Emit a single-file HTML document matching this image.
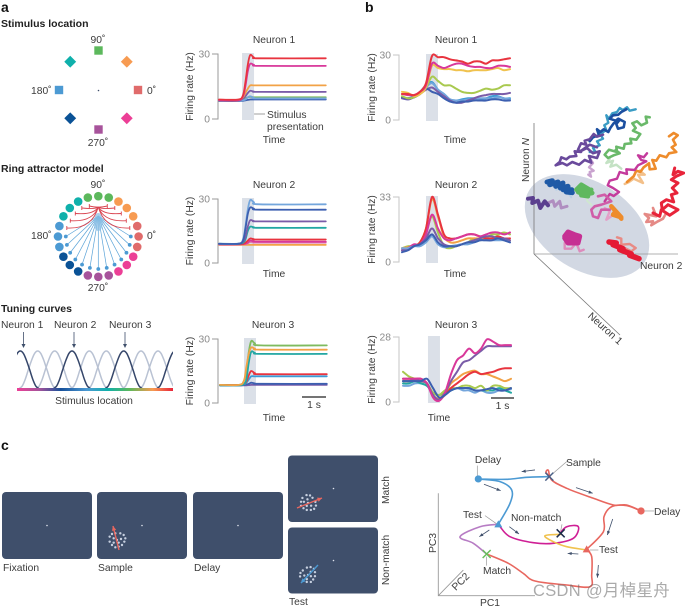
<!DOCTYPE html>
<html lang="en">
<head>
<meta charset="utf-8">
<title>Neuron firing figure</title>
<style>
html,body{margin:0;padding:0;background:#fff;}
svg{display:block;}
text{font-family:"Liberation Sans","Noto Sans CJK SC",sans-serif;font-size:10.3px;fill:#3b3b3b;}
.b{font-weight:bold;fill:#222;font-size:10.5px;}
.p{font-weight:bold;fill:#111;font-size:14px;}
.m{text-anchor:middle;}
.t{fill:#8a8a8a;}
</style>
</head>
<body>
<svg id="fig" xmlns="http://www.w3.org/2000/svg" width="685" height="607" viewBox="0 0 685 607">
<rect width="685" height="607" fill="#fff"/>
<text class="p" x="1" y="12">a</text>
<text class="p" x="365" y="12">b</text>
<text class="p" x="1" y="450">c</text>

<text class="b" x="1" y="27">Stimulus location</text>
<text class="m" x="98" y="43">90˚</text>
<text x="31" y="94">180˚</text>
<text x="147" y="94">0˚</text>
<text class="m" x="98" y="146">270˚</text>

<text class="b" x="1" y="172">Ring attractor model</text>
<text class="m" x="98" y="188">90˚</text>
<text x="31" y="239">180˚</text>
<text x="147" y="239">0˚</text>
<text class="m" x="98" y="291">270˚</text>

<text class="b" x="1" y="312">Tuning curves</text>
<text x="1" y="328">Neuron 1</text>
<text x="54" y="328">Neuron 2</text>
<text x="109" y="328">Neuron 3</text>
<text class="m" x="94" y="404">Stimulus location</text>
<defs>
<linearGradient id="bar" x1="0" x2="1" y1="0" y2="0">
<stop offset="0" stop-color="#ec3f96"/><stop offset=".14" stop-color="#a7539b"/><stop offset=".28" stop-color="#17509a"/><stop offset=".45" stop-color="#4c9ad3"/><stop offset=".58" stop-color="#0fb0ab"/><stop offset=".72" stop-color="#5cb85c"/><stop offset=".87" stop-color="#f79b52"/><stop offset="1" stop-color="#e8243a"/>
</linearGradient>
<clipPath id="tc"><rect x="17" y="340" width="156" height="50"/></clipPath>
</defs>
<g id="tuning" clip-path="url(#tc)"></g>
<rect x="17" y="388" width="156" height="3" fill="url(#bar)"/>
<g stroke="#3f4f6b" fill="#3f4f6b" stroke-width="0.8">
<path d="M23.500 332V346" fill="none"/><path d="M23.500 348l-2 -4h4z" stroke="none"/>
<path d="M74 332V346" fill="none"/><path d="M74 348l-2 -4h4z" stroke="none"/>
<path d="M125 332V346" fill="none"/><path d="M125 348l-2 -4h4z" stroke="none"/>
</g>

<text x="267" y="118">Stimulus</text>
<text x="267" y="130">presentation</text>
<line x1="254" y1="114" x2="265" y2="114" stroke="#888" stroke-width=".8"/>

<g id="screens">
<rect x="2" y="492" width="90" height="67" rx="4" fill="#3f4f6b"/>
<rect x="97" y="492" width="90" height="67" rx="4" fill="#3f4f6b"/>
<rect x="193" y="492" width="90" height="67" rx="4" fill="#3f4f6b"/>
<rect x="288" y="455.500" width="90" height="66.500" rx="4" fill="#3f4f6b"/>
<rect x="288" y="527.500" width="90" height="66" rx="4" fill="#3f4f6b"/>
<circle cx="47" cy="525.500" r=".8" fill="#dfe4ee"/>
<circle cx="142" cy="525.500" r=".8" fill="#dfe4ee"/>
<circle cx="238" cy="525.500" r=".8" fill="#dfe4ee"/>
<circle cx="333.500" cy="488.500" r=".8" fill="#dfe4ee"/>
<circle cx="333.500" cy="560.500" r=".8" fill="#dfe4ee"/>
</g>
<text x="3" y="571">Fixation</text>
<text x="98" y="571">Sample</text>
<text x="194" y="571">Delay</text>
<text x="289" y="605">Test</text>
<text class="m" transform="translate(389,490) rotate(-90)">Match</text>
<text class="m" transform="translate(389,560) rotate(-90)">Non-match</text>

<ellipse cx="587" cy="226" rx="68" ry="44" transform="rotate(32 587 226)" fill="#d2d8e3"/>
<g stroke="#777" stroke-width=".8">
<line x1="534" y1="254" x2="534" y2="123"/>
<line x1="534" y1="254" x2="678" y2="254" stroke="#999"/>
<line x1="534" y1="254" x2="620" y2="335"/>
</g>
<g id="traj"></g>
<text class="m" transform="translate(529,160) rotate(-90)">Neuron <tspan font-style="italic">N</tspan></text>
<text x="640" y="269">Neuron 2</text>
<text class="m" transform="translate(603,331) rotate(42)">Neuron 1</text>

<g id="pc"></g>
<text class="m" transform="translate(436,543) rotate(-90)">PC3</text>
<text class="m" x="490" y="606">PC1</text>
<text class="m" transform="translate(463,584) rotate(-45)">PC2</text>
<text class="m" x="488" y="463">Delay</text>
<text x="566" y="466">Sample</text>
<text x="654" y="515">Delay</text>
<text x="463" y="518">Test</text>
<text x="511" y="521">Non-match</text>
<text x="599" y="553">Test</text>
<text x="483" y="574">Match</text>
<text x="533" y="596" style="font-size:16.500px;fill:#666;opacity:.55;letter-spacing:.3px">CSDN @月棹星舟</text>
</svg>

<script>
const NS = 'http://www.w3.org/2000/svg';
const fig = document.getElementById('fig');

/* palette */
const cRed='#e8343f', cMag='#d8389a', cOra='#f2a246', cPur='#7a5ca8', cGre='#7fbb5f', cLbl='#74a6dc', cBlu='#3c5fb0', cTea='#22a7a3', cSky='#3d9ad6', cPin='#e07fb0', cLim='#a9c94f', cYel='#f0c24e';

/* panel a: model neurons */
const timeA = [0,0.8,1.0,1.1,1.2,1.3,1.45,1.7,4.45];
const a1Values = [
 [8.3,8.3,8.4,8.6,8.8,9,9,9,9],
 [8.5,8.5,9,9.5,10,10.2,10,10,10],
 [8.5,8.5,8.7,9,10,10.5,9.8,9.5,9.5],
 [8.5,8.5,9.5,10.5,12,13,12.7,12.5,12.5],
 [8.7,8.7,10,12,14,15.5,15.5,15.5,15.5],
 [8.7,8.7,10.5,15,22,25.5,25,24.5,24.5],
 [9,9,11,17,25,29.5,28.5,28,28]];
const a1Colors = [cBlu,cGre,cLbl,cPur,cOra,cMag,cRed];
const a2Values = [
 [8.5,8.5,8.5,8.5,8.5,8.5,8.5,8.5,8.5],
 [8.7,8.7,8.8,8.9,9.2,9.8,9.6,9.5,9.5],
 [8.7,8.7,8.8,9,9.5,10.5,10.2,10,10],
 [8.8,8.8,9,9.5,10.5,11.5,11.2,11,11],
 [9,9,9.5,11,15,17,16.8,16.5,16.5],
 [9,9,10,12,17,20,19.7,19.5,19.5],
 [9,9,11,17,25,29.5,28.5,27.5,27.5],
 [9,9,10.5,16,23,26,25.5,25,25]];
const a2Colors = [cOra,cPin,cMag,cRed,cTea,cPur,cLbl,cBlu];
const a3Values = [
 [8.2,8.2,8.3,8.3,8.4,8.5,8.5,8.5,8.5],
 [8.3,8.3,8.5,8.7,9,9.5,9.2,9,9],
 [8.3,8.3,8.8,9.5,11,12.5,12.5,12.5,12.5],
 [8.5,8.5,9,10,13,15,14,13.5,13.5],
 [8.5,8.5,10.5,15,24,29,28,27,27],
 [8.3,8.3,9,11,19,24,23.5,23,23],
 [8.5,8.5,10.5,17,23,26,25.5,25,25]];
const a3Colors = [cPur,cBlu,cSky,cRed,cGre,cTea,cOra];

/* panel b: recorded neurons */
const timeB = [0,.25,.5,.75,1,1.25,1.5,1.75,2,2.25,2.5,2.75,3,3.25,3.5,3.75,4,4.25,4.5];
const b1Values = [
 [10,10,11,13,16,17.5,14,12,9.5,9,9.5,10,10,9.5,10,11,11,10,10],
 [10,9.5,10.5,12,15,17,14,12,9.5,9,9,9.5,9.5,10,10,10,10.5,10,9.5],
 [10,9.5,10.5,12,14,15,13,11,9,8,8,9,10,11,11.5,12,12,12,12.5],
 [10.5,10,10.5,12,14.5,13,12,10,8.5,8,8.5,8.5,9,9,9,9.5,9.5,9,9],
 [11,10,10.5,12,15,20,18,16,16,14.5,13,12.5,12.5,13.5,14.5,14,14.5,16,16],
 [13,12.5,11,12,15,25,24,23.5,23.5,23,23,22.5,23,23,23,23.5,24,23,23.5],
 [12,11.5,11.5,13,16,26,25,24,25,26,26,25,24.5,24.5,24,24,25,25,24.5],
 [12,12,11.5,13,17,29.5,29,29,28,27.5,27,26,27,27,26,27.5,27.5,28,28.5]];
const b1Colors = [cSky,cLbl,cPur,cBlu,cLim,cYel,cMag,cRed];
const b2Values = [
 [7,8,8,10,15,23,15,8,7,8,9,10,12,11,12,14,14,15,14],
 [7,7.5,8,10,17,32,23,13,10,10,11,12,12,12,12,12,12,12,11],
 [6,7,8,10,17,33,24,14,12,12,13,14,14,13,12,12,13,12,12],
 [6,7,9,9,14,24,17,12,11,12,13,14,14,13,14,15,15,14,15],
 [6,6,8,9,12,17,12,9,8,8,9,10,11,12,13,13,12,12,11],
 [7,7,8,8,10,13,9,7.5,8,8.5,9,9,10,11,11,11,11,11,10],
 [5,6,8,9,11,14,10,8,8,8,9,10,10,11,11,11,12,11,10]];
const b2Colors = [cLim,cOra,cRed,cMag,cPur,cLbl,cBlu];
const b3Values = [
 [7,7,8,8,7,4,3,4,5,6,5,5,4,5,4,4,5,5,5.5],
 [8,8,9,8,7,4,3,4,5,6,6,6,5,5,5,5,6,5,4],
 [13,11,10,9,8,4,3,5,6,6,7,7,6,7,5,7,7,6,6],
 [9,9,10,9,8,3,1.5,4,8,10,12,13,13.5,12,12,11,10,9,10],
 [10,10,10,10,8,2.5,1,3,6,8,10,12,13,12,12.5,13,14,14.5,14.5],
 [9,9,9.5,9,8,3,1,4,9,13,17,18,20,22,24,24,24,24,24],
 [10,10,10,10,8,2,0.5,4,12,18,20,23,21,23,27,26,24.5,24.5,24.5],
 [9,9,9,9,10,6,2,3,5,6,6,6,5,5,5.5,6,5,5,6]];
const b3Colors = [cLbl,cTea,cLim,cOra,cRed,cPur,cMag,cBlu];

/* stimulus and ring */
const stimAngles = [0,45,90,135,180,225,270,315];
const stimColors = ['#e06b6b','#f79b52','#5cb85c','#0fb0ab','#4c9ad3','#0a5296','#a7539b','#ec3f96'];
const ringAngles = [0,15,30,45,60,75,90,105,120,135,150,165,180,195,210,225,240,255,270,285,300,315,330,345];
const ringColors = ['#e06b6b','#e06b6b','#f79b52','#f79b52','#f79b52','#5cb85c','#5cb85c','#5cb85c','#0fb0ab','#0fb0ab','#0fb0ab','#4c9ad3','#4c9ad3','#4c9ad3','#0a5296','#0a5296','#0a5296','#a7539b','#a7539b','#a7539b','#ec3f96','#ec3f96','#ec3f96','#e06b6b'];
const excitatoryAngles = [180,195,210,225,240,255,270,285,300,315,330,345,360];
const inhibitoryDx = [-31.5,-28,-23,-16.5,-9,9,16.5,23,28,31.5];
const inhibitoryEndY = [228,220.7,213.5,208,206,206,208,213.5,220.7,228];

/* tuning */
const tuningPeaks = [60,112,163,215,267,318,370,422,473,525];
const tuningDark = [1,0,0,1,0,0,1,0,0,1];
const tuningOffsets = [-55,-46,-37,-28,-18,-9,0,9,18,28,37,46,55];
const tuningShape = [0,.07,.25,.5,.76,.94,1,.94,.76,.5,.25,.07,0];

/* state-space trajectories */
const trajColors = ['#b9cfe6','#cfe7cf','#b08ec0','#dd8cbc','#e88a84','#e3a0c8','#c4e2c4','#c9a3cf','#f3c08a','#e58a86','#3a9cc4','#1c4fa0','#6a4a9c','#6ab96a','#ee8c2c','#c43a9c','#e8243a','#1f5aa6','#5fb85f','#5b3f8f','#d05da8','#c62f93','#e51a34','#ee8c2c'];
const trajWidths = [2,2,3,2.4,2.4,2.4,2.4,2.4,2.4,2.6,2.4,2.6,2.6,2.6,2.6,2.4,3,5,4.5,4,2.6,5,5.5,4.5];
const trajPoints = [
 [[140,285],[150,280],[165,295],[172,290],[185,308]],
 [[235,305],[232,318],[245,330]],
 [[115,325],[130,318],[135,335],[150,320],[155,340],[172,335]],
 [[165,445],[165,462],[185,462],[200,445],[210,470],[222,465]],
 [[322,428],[335,432],[335,450],[360,448],[378,460],[365,470],[345,460]],
 [[285,340],[300,350],[290,375],[305,365]],
 [[300,192],[290,205],[310,198],[302,216],[320,210],[335,222]],
 [[240,190],[250,205],[238,218],[252,228],[240,232],[244,246],[236,240]],
 [[390,228],[405,240],[385,240],[400,265],[372,252],[358,262],[345,268]],
 [[430,340],[440,365],[405,358],[418,370],[410,382],[430,380],[425,392],[445,380],[460,372],[470,355]],
 [[378,44],[360,48],[352,38],[340,46],[330,40],[322,52],[308,56],[298,72],[290,62],[296,84],[284,92],[290,106],[272,118],[280,132],[262,140],[270,152],[250,160],[258,172],[240,172]],
 [[350,44],[335,52],[326,60],[310,62],[300,72],[318,78],[326,72],[345,82],[342,98],[325,102],[320,88],[328,78],[312,86],[302,100],[296,112],[282,104],[272,112],[262,104],[268,122],[250,128],[240,140]],
 [[280,120],[262,126],[252,118],[240,134],[225,138],[230,150],[214,146],[205,165],[214,172],[195,170],[200,184],[180,186],[170,194],[155,188],[150,202],[138,212],[158,205],[172,212],[188,202],[208,210],[225,196],[245,204],[238,184],[262,190],[270,170],[250,176],[232,160],[212,170],[240,150],[262,158]],
 [[420,68],[408,66],[412,84],[395,92],[382,80],[368,86],[378,100],[370,108],[392,118],[380,135],[362,132],[365,146],[345,148],[342,162],[320,156],[322,172],[298,165],[285,180],[295,190],[312,182],[330,176],[318,166]],
 [[478,125],[492,115],[504,122],[490,135],[498,150],[486,158],[500,172],[478,176],[470,188],[450,182],[440,198],[428,196],[438,222],[420,224],[418,206],[402,218],[392,232],[380,228],[372,245],[352,262]],
 [[412,176],[402,188],[385,182],[395,196],[410,200],[385,212],[375,226],[350,224],[352,238],[330,232],[322,252],[300,258],[294,272],[310,280],[328,292],[312,304],[300,298],[285,320]],
 [[495,220],[490,240],[505,230],[522,235],[500,245],[485,255],[505,265],[488,280],[502,295],[485,300],[492,322],[470,315],[455,325],[458,345],[475,330],[505,345],[480,362],[455,345],[450,365],[430,355]],
 [[112,262],[128,258],[120,270],[145,262],[138,275],[160,265],[152,280],[175,275],[160,285],[186,285],[170,292],[188,294]],
 [[200,285],[215,270],[240,285],[205,280],[248,295],[215,302],[235,305],[205,292],[245,285]],
 [[55,312],[70,310],[68,325],[85,318],[92,340],[105,320],[115,332]],
 [[265,305],[285,300],[305,320],[275,330],[255,335],[245,345],[250,365],[265,370],[275,345],[300,345]],
 [[165,425],[175,412],[195,420],[210,425],[205,445],[175,445],[165,430],[195,435],[180,418],[205,435]],
 [[298,442],[320,445],[310,450],[340,462],[330,465],[365,478],[360,482],[388,492]],
 [[305,335],[335,368],[310,360],[318,350],[335,372]]];

/* PC trajectories */
const pcColors = ['#4c9ad3','#4c9ad3','#e8675f','#e8675f','#e8675f','#b77cc4','#cf1f95','#f0c24e'];
const pcCurves = [
 [[388,95],[320,97],[260,103],[175,102]],
 [[175,102],[240,110],[275,135],[270,175],[235,238]],
 [[388,95],[378,82],[385,76],[395,105],[440,130],[520,160],[580,180],[620,180],[663,198]],
 [[663,198],[620,182],[575,185],[552,215],[550,260],[500,313]],
 [[500,313],[515,335],[515,390],[510,425],[440,420],[345,408],[310,385],[265,355],[200,327]],
 [[235,238],[180,245],[120,275],[160,295],[200,327]],
 [[240,245],[270,275],[340,293],[400,295],[460,280],[475,245],[440,245],[420,265]],
 [[500,315],[440,305],[400,290],[375,272],[425,268]]];
const pcArrows = [[345,75,305,80],[192,118,242,137],[468,128,518,145],[578,222,562,270],[208,255,178,275],[268,245,297,267],[475,327,443,325],[535,360,532,398]];
const pcCircles = [[175,102,'#4c9ad3'],[663,198,'#e8675f']];
const pcTriangles = [[235,238,'#4c9ad3'],[500,313,'#e8675f']];
const pcCrosses = [[388,95,'#4a5f86'],[200,327,'#68bf5c'],[422,265,'#1c2b4a']];
const pcLeaders = [[172,62,172,92],[440,50,396,88],[670,198,702,198],[195,212,232,238],[510,315,535,315],[426,238,422,258],[200,335,200,362]];

/* random-dot stimulus */
const dotOffsetsX = [328,335,345,360,370,375,372,365,355,345,335,328,340,350,362,340,355];
const dotOffsetsY = [290,282,280,280,285,295,305,315,320,322,315,305,295,300,297,308,308];
const dotCenters = [[117,540,0],[308,503,55],[308,575,-35]];
const motionArrows = [[119,550,113,526,'#e8675f'],[297,508,322,498,'#e8675f'],[318,565,301,583,'#4c9ad3']];

function make(tag, parent, attrs){
  const el = document.createElementNS(NS, tag);
  for (const k in attrs) el.setAttribute(k, attrs[k]);
  parent.appendChild(el);
  return el;
}
function linear(d0,d1,r0,r1){ return v => r0 + (v-d0)*(r1-r0)/(d1-d0); }
function smoothPath(p){
  let d = 'M'+p[0][0].toFixed(1)+' '+p[0][1].toFixed(1);
  for (let i=0;i<p.length-1;i++){
    const a=p[Math.max(i-1,0)], b=p[i], c=p[i+1], e=p[Math.min(i+2,p.length-1)];
    const c1x=b[0]+(c[0]-a[0])/6, c1y=b[1]+(c[1]-a[1])/6, c2x=c[0]-(e[0]-b[0])/6, c2y=c[1]-(e[1]-b[1])/6;
    d+=' C'+c1x.toFixed(1)+' '+c1y.toFixed(1)+' '+c2x.toFixed(1)+' '+c2y.toFixed(1)+' '+c[0].toFixed(1)+' '+c[1].toFixed(1);
  }
  return d;
}
function label(parent, txt, x, y, attrs){
  const t = make('text', parent, Object.assign({x:x,y:y}, attrs||{}));
  t.textContent = txt;
  return t;
}

function drawLineChart(o){
  const g = make('g', fig, {});
  
  
  const sx = linear(0,4.5,o.x0,o.x0+108);
  const sy = linear(0,o.ymax,o.yBottom,o.yTop);
  const shade = make('rect', g, {x:sx(o.shade0), y:o.yTop-1, width:sx(o.shade1)-sx(o.shade0), height:o.yBottom-o.yTop+2, fill:'#dbe0e8'});
  
  
  const axis = make('path', g, {d:'M'+(o.axisX-6)+' '+sy(o.ymax)+'H'+o.axisX+'V'+sy(0)+'H'+(o.axisX-6), fill:'none', stroke:o.axisColor, 'stroke-width':1});
  
  
  const tMax = label(g, String(o.ymax), o.axisX-8, sy(o.ymax)+3.5, {'text-anchor':'end', 'class':'t'});
  
  
  const tMin = label(g, '0', o.axisX-8, sy(0)+3.5, {'text-anchor':'end', 'class':'t'});
  
  
  const yt = make('text', g, {transform:'translate('+o.yTitleX+','+((sy(0)+sy(o.ymax))/2)+') rotate(-90)', 'class':'m'});
  yt.textContent = 'Firing rate (Hz)';
  
  
  const title = label(g, o.title, o.titleX, o.titleY, {'class':'m'});
  
  
  const xt = label(g, 'Time', o.timeX, o.timeY, {'class':'m'});
  
  
  o.values.forEach((vals,i)=>{
    const pts = vals.map((v,j)=>[sx(o.times[j]), sy(v)]);
    const line = make('path', g, {d:smoothPath(pts), fill:'none', stroke:o.colors[i], 'stroke-width':o.width, 'stroke-linejoin':'round', 'stroke-linecap':'round'});
    
    
  });
  if (o.bar){
    const bar = make('line', g, {x1:o.bar[0], x2:o.bar[1], y1:o.bar[2], y2:o.bar[2], stroke:'#222', 'stroke-width':1.3});
    
    
    const bt = label(g, '1 s', (o.bar[0]+o.bar[1])/2, o.bar[2]+11, {'class':'m'});
    
    
  }
}

const axisA='#9a9a9a', axisB='#c6c6c6';
drawLineChart({name:'model-neuron-1-chart',title:'Neuron 1',times:timeA,values:a1Values,colors:a1Colors,ymax:30,yTop:54,yBottom:119,x0:219,shade0:.96,shade1:1.46,axisX:218,axisColor:axisA,yTitleX:193,titleX:274,titleY:43,timeX:274,timeY:143,width:1.8});
drawLineChart({name:'model-neuron-2-chart',title:'Neuron 2',times:timeA,values:a2Values,colors:a2Colors,ymax:30,yTop:199,yBottom:263,x0:219,shade0:.96,shade1:1.46,axisX:218,axisColor:axisA,yTitleX:193,titleX:274,titleY:188,timeX:274,timeY:277,width:1.8});
drawLineChart({name:'model-neuron-3-chart',title:'Neuron 3',times:timeA,values:a3Values,colors:a3Colors,ymax:30,yTop:339,yBottom:403,x0:220,shade0:1,shade1:1.5,axisX:218,axisColor:axisA,yTitleX:193,titleX:273,titleY:328,timeX:274,timeY:421,width:1.8,bar:[302,326,397]});
drawLineChart({name:'recorded-neuron-1-chart',title:'Neuron 1',times:timeB,values:b1Values,colors:b1Colors,ymax:30,yTop:55,yBottom:120,x0:402,shade0:1,shade1:1.5,axisX:399,axisColor:axisB,yTitleX:375,titleX:456,titleY:43,timeX:455,timeY:143,width:2});
drawLineChart({name:'recorded-neuron-2-chart',title:'Neuron 2',times:timeB,values:b2Values,colors:b2Colors,ymax:33,yTop:197,yBottom:262,x0:402,shade0:1,shade1:1.5,axisX:399,axisColor:axisB,yTitleX:375,titleX:456,titleY:188,timeX:455,timeY:277,width:2});
drawLineChart({name:'recorded-neuron-3-chart',title:'Neuron 3',times:timeB,values:b3Values,colors:b3Colors,ymax:28,yTop:337,yBottom:402,x0:403,shade0:1.04,shade1:1.54,axisX:399,axisColor:axisB,yTitleX:375,titleX:456,titleY:328,timeX:439,timeY:421,width:2,bar:[491,514,398]});

/* stimulus locations */
const stimG = make('g', fig, {});


stimAngles.forEach((a,i)=>{
  const r = a%90===0 ? 39.500 : 40;
  const x = 98.500 + r*Math.cos(a*Math.PI/180), y = 90 - r*Math.sin(a*Math.PI/180);
  const rot = a%90===0 ? 0 : 45;
  const m = make('rect', stimG, {x:x-4.2, y:y-4.2, width:8.4, height:8.4, fill:stimColors[i], transform:'rotate('+rot+' '+x+' '+y+')'});
  
  
});
const cDot = make('circle', stimG, {cx:98.500, cy:90.500, r:.8, fill:'#3f4f6b'});



/* ring */
const ringG = make('g', fig, {});


const rcx=98.300, rcy=236.500;
ringAngles.forEach((a,i)=>{
  const c = make('circle', ringG, {cx:rcx+40.3*Math.cos(a*Math.PI/180), cy:rcy-40.3*Math.sin(a*Math.PI/180), r:4.3, fill:ringColors[i]});
  
  
});
excitatoryAngles.forEach(a=>{
  const x = rcx+32.5*Math.cos(a*Math.PI/180), y = rcy-32.5*Math.sin(a*Math.PI/180);
  const l = make('line', ringG, {x1:rcx, y1:216, x2:x, y2:y, stroke:'#5aa3d8', 'stroke-width':.7});
  
  
  const d = make('circle', ringG, {cx:x, cy:y, r:1.9, fill:'#4c9ad3'});
  
  
});
const fan = make('ellipse', ringG, {cx:rcx, cy:222, rx:4.5, ry:9, fill:'#8cc0e6', opacity:.75});


inhibitoryDx.forEach((dx,i)=>{
  const x = rcx+dx, y = inhibitoryEndY[i];
  const l = make('path', ringG, {d:'M'+rcx+' 207Q'+(rcx+dx*.2)+' '+(y+1.5)+' '+x+' '+y, fill:'none', stroke:'#d9434f', 'stroke-width':.9});
  
  
  const t = make('line', ringG, {x1:x, y1:y-2, x2:x, y2:y+2, stroke:'#d9434f', 'stroke-width':.9});
  
  
});

/* tuning curves */
const tuningG = document.getElementById('tuning');
const sTuneX = linear(50,518,17,173);
const sTuneY = linear(0,1,388.5,351);
[0,1].forEach(layer=>{
  tuningPeaks.forEach((pk,i)=>{
    if (tuningDark[i]!==layer) return;
    const pts = tuningOffsets.map((o,j)=>[sTuneX(pk+o), sTuneY(tuningShape[j])]);
    const c = make('path', tuningG, {d:smoothPath(pts), fill:'none', stroke:layer?'#35466a':'#b9c2d3', 'stroke-width':1.5});
    
    
  });
});

/* trajectories */
const trajG = document.getElementById('traj');
const sN2 = linear(73,505,534,678);
const sNN = linear(478,85,254,123);
trajPoints.forEach((pts,i)=>{
  const d = pts.map((p,j)=>(j?'L':'M')+sN2(p[0]).toFixed(1)+' '+sNN(p[1]).toFixed(1)).join('');
  const t = make('path', trajG, {d:d, fill:'none', stroke:trajColors[i], 'stroke-width':trajWidths[i], 'stroke-linejoin':'round', 'stroke-linecap':'round'});
  
  
});

/* task screen dots and arrows */
const screens = document.getElementById('screens');
dotCenters.forEach(c=>{
  const ang = c[2]*Math.PI/180;
  dotOffsetsX.forEach((dx,i)=>{
    let x=(dx-350)/3, y=(dotOffsetsY[i]-300)/3;
    const rx=x*Math.cos(ang)-y*Math.sin(ang)*1, ry=x*Math.sin(ang)+y*Math.cos(ang);
    const d = make('circle', screens, {cx:c[0]+rx, cy:c[1]+ry, r:1.2, fill:'#c7d0e0'});
    
    
  });
});
motionArrows.forEach(m=>{
  const l = make('line', screens, {x1:m[0], y1:m[1], x2:m[2], y2:m[3], stroke:m[4], 'stroke-width':1.4});
  
  
  const a = Math.atan2(m[3]-m[1], m[2]-m[0]);
  const h = 4.5, w = 2.2;
  const tip = [m[2],m[3]], bx = m[2]-h*Math.cos(a), by = m[3]-h*Math.sin(a);
  const pts = tip.join(',')+' '+(bx-w*Math.sin(a))+','+(by+w*Math.cos(a))+' '+(bx+w*Math.sin(a))+','+(by-w*Math.cos(a));
  const head = make('polygon', screens, {points:pts, fill:m[4]});
  
  
});

/* PC plot */
const pcG = document.getElementById('pc');
const sPx = linear(55,345,438.3,535);
const sPy = linear(452,145,595.7,493.3);
const axPc = make('path', pcG, {d:'M'+sPx(55)+' '+sPy(145)+'V'+sPy(452)+'H'+sPx(345)+'M'+sPx(55)+' '+sPy(452)+'L'+sPx(130)+' '+sPy(375), fill:'none', stroke:'#9a9a9a', 'stroke-width':.9});


pcLeaders.forEach(l=>{
  const e = make('line', pcG, {x1:sPx(l[0]), y1:sPy(l[1]), x2:sPx(l[2]), y2:sPy(l[3]), stroke:'#999', 'stroke-width':.7});
  
  
});
pcCurves.forEach((c,i)=>{
  const p = make('path', pcG, {d:smoothPath(c.map(q=>[sPx(q[0]),sPy(q[1])])), fill:'none', stroke:pcColors[i], 'stroke-width':1.6, 'stroke-linejoin':'round'});
  
  
});
pcArrows.forEach(m=>{
  const x1=sPx(m[0]), y1=sPy(m[1]), x2=sPx(m[2]), y2=sPy(m[3]);
  const l = make('line', pcG, {x1:x1, y1:y1, x2:x2, y2:y2, stroke:'#3f4f6b', 'stroke-width':.8});
  
  
  const a = Math.atan2(y2-y1, x2-x1), bx=x2-4*Math.cos(a), by=y2-4*Math.sin(a);
  const head = make('polygon', pcG, {points:x2+','+y2+' '+(bx-1.6*Math.sin(a))+','+(by+1.6*Math.cos(a))+' '+(bx+1.6*Math.sin(a))+','+(by-1.6*Math.cos(a)), fill:'#3f4f6b'});
  
  
});
pcCircles.forEach(c=>{
  const e = make('circle', pcG, {cx:sPx(c[0]), cy:sPy(c[1]), r:3.6, fill:c[2]});
  
  
});
pcTriangles.forEach(c=>{
  const x=sPx(c[0]), y=sPy(c[1]);
  const e = make('polygon', pcG, {points:x+','+(y-4)+' '+(x+4)+','+(y+3)+' '+(x-4)+','+(y+3), fill:c[2]});
  
  
});
pcCrosses.forEach(c=>{
  const x=sPx(c[0]), y=sPy(c[1]);
  const e = make('path', pcG, {d:'M'+(x-4)+' '+(y-4)+'L'+(x+4)+' '+(y+4)+'M'+(x-4)+' '+(y+4)+'L'+(x+4)+' '+(y-4), stroke:c[2], 'stroke-width':1.5, fill:'none'});
  
  
});
</script>
</body>
</html>
